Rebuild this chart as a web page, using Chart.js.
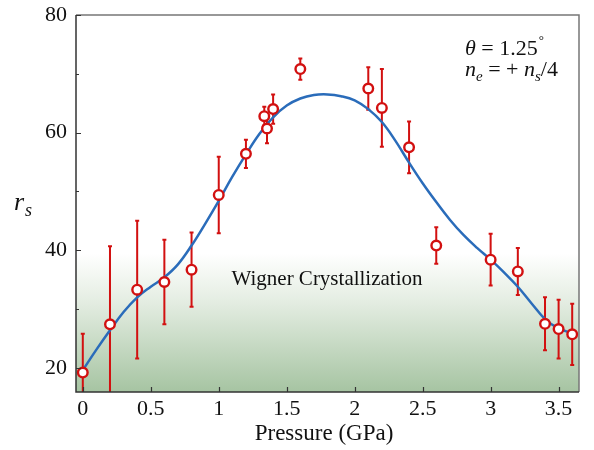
<!DOCTYPE html>
<html>
<head>
<meta charset="utf-8">
<script src="https://cdn.jsdelivr.net/npm/chart.js@4"></script>
<style>
  html, body { margin: 0; padding: 0; background: #fff; }
</style>
</head>
<body>
<canvas id="chart" width="594" height="450"></canvas>
<script>
// measured points (pressure in GPa, r_s and its error)
const pressure = [0, 0.2, 0.4, 0.6, 0.8, 1.0, 1.2, 1.335, 1.355, 1.4, 1.6, 2.1, 2.2, 2.4, 2.6, 3.0, 3.2, 3.4, 3.5, 3.6];
const rs       = [19.2, 27.4, 33.3, 34.6, 36.7, 49.4, 56.4, 62.8, 60.7, 64.0, 70.8, 67.5, 64.2, 57.5, 40.8, 38.4, 36.4, 27.5, 26.6, 25.7];
const rsErr    = [6.6, 13.3, 11.7, 7.2, 6.3, 6.5, 2.4, 1.6, 2.5, 2.5, 1.8, 3.6, 6.6, 4.4, 3.1, 4.4, 4.0, 4.5, 5.0, 5.2];

// smooth guide curve
const fitP  = [0, 0.1, 0.2, 0.3, 0.4, 0.5, 0.6, 0.7, 0.8, 0.9, 1.0, 1.1, 1.2, 1.3, 1.4, 1.5, 1.6, 1.7, 1.8,
               1.9, 2.0, 2.1, 2.2, 2.3, 2.4, 2.5, 2.6, 2.7, 2.8, 2.9, 3.0, 3.1, 3.2, 3.3, 3.4, 3.5, 3.6];
const fitRs = [19.6, 23.1, 26.4, 29.5, 32.0, 33.8, 35.4, 37.6, 40.8, 44.5, 48.4, 52.5, 56.3, 59.8, 62.6, 64.6, 65.8, 66.4, 66.5,
               66.2, 65.5, 64.0, 61.8, 58.6, 54.9, 51.4, 48.2, 45.2, 42.6, 40.4, 38.4, 36.2, 33.8, 31.0, 28.3, 26.7, 25.9];

// axis ticks
const xTicks = [0, 0.5, 1, 1.5, 2, 2.5, 3, 3.5];
const yTicks = [20, 30, 40, 50, 60, 70, 80];
const yLabels = [20, 40, 60, 80];

const SERIF = "'Liberation Serif', 'DejaVu Serif', serif";
const RED = 'rgb(210,16,16)';
const BLUE = 'rgb(42,108,186)';
const shadeTop = 39.5;

function drawRuns(ctx, x, y, runs) {
    runs.forEach(r => {
        ctx.font = r.font;
        ctx.fillText(r.t, x, y + (r.dy || 0));
        x += ctx.measureText(r.t).width + (r.dx || 0);
    });
}

const decorations = {
    id: 'decorations',
    beforeDatasetsDraw(chart) {
        const { ctx, chartArea: a, scales: { x, y } } = chart;
        ctx.save();
        // green shading of the crystal region
        const top = y.getPixelForValue(shadeTop);
        const g = ctx.createLinearGradient(0, top, 0, a.bottom);
        g.addColorStop(0, 'rgba(255,255,255,1)');
        g.addColorStop(0.35, 'rgb(228,237,226)');
        g.addColorStop(1, 'rgb(166,196,162)');
        ctx.fillStyle = g;
        ctx.fillRect(a.left, top, a.width, a.bottom - top);

        ctx.fillStyle = '#111';
        ctx.font = '21px ' + SERIF;
        ctx.textAlign = 'center';
        ctx.textBaseline = 'alphabetic';
        ctx.fillText('Wigner Crystallization', 327, 285);

        // error bars
        ctx.beginPath();
        ctx.rect(a.left, a.top, a.width, a.height);
        ctx.clip();
        ctx.strokeStyle = RED;
        ctx.lineWidth = 2;
        pressure.forEach((p, i) => {
            const px = x.getPixelForValue(p);
            const hi = y.getPixelForValue(rs[i] + rsErr[i]);
            const lo = y.getPixelForValue(rs[i] - rsErr[i]);
            ctx.beginPath();
            ctx.moveTo(px, hi); ctx.lineTo(px, lo);
            ctx.moveTo(px - 2, hi); ctx.lineTo(px + 2, hi);
            ctx.moveTo(px - 2, lo); ctx.lineTo(px + 2, lo);
            ctx.stroke();
        });
        ctx.restore();
    },
    afterDraw(chart) {
        const { ctx, chartArea: a, scales: { x, y } } = chart;
        ctx.save();
        // frame
        ctx.lineWidth = 1.5;
        ctx.strokeStyle = '#777';
        ctx.beginPath();
        ctx.moveTo(a.left, a.top); ctx.lineTo(a.right, a.top); ctx.lineTo(a.right, a.bottom);
        ctx.stroke();
        ctx.strokeStyle = '#333';
        ctx.beginPath();
        ctx.moveTo(a.left, a.top); ctx.lineTo(a.left, a.bottom); ctx.lineTo(a.right, a.bottom);
        ctx.stroke();

        // inward ticks
        ctx.lineWidth = 1.2;
        ctx.beginPath();
        yTicks.forEach(v => {
            const py = Math.round(y.getPixelForValue(v)) + 0.5;
            const len = yLabels.includes(v) ? 5 : 3;
            ctx.moveTo(a.left, py); ctx.lineTo(a.left + len, py);
        });
        xTicks.forEach(v => {
            const px = Math.round(x.getPixelForValue(v)) + 0.5;
            ctx.moveTo(px, a.bottom); ctx.lineTo(px, a.bottom - 5);
        });
        ctx.stroke();

        // axis titles
        ctx.fillStyle = '#111';
        ctx.textAlign = 'center';
        ctx.textBaseline = 'alphabetic';
        ctx.font = '23px ' + SERIF;
        ctx.fillText('Pressure (GPa)', 324, 440);

        ctx.textAlign = 'left';
        drawRuns(ctx, 14, 210, [
            { t: 'r', font: 'italic 26px ' + SERIF, dx: 1 },
            { t: 's', font: 'italic 18px ' + SERIF, dy: 6 }
        ]);

        // annotation
        drawRuns(ctx, 465, 55, [
            { t: 'θ', font: 'italic 22px ' + SERIF },
            { t: ' = 1.25', font: '22px ' + SERIF, dx: 1 },
            { t: '°', font: '13px ' + SERIF, dy: -11 }
        ]);
        drawRuns(ctx, 465, 76, [
            { t: 'n', font: 'italic 22px ' + SERIF },
            { t: 'e', font: 'italic 15px ' + SERIF, dy: 5 },
            { t: ' = + ', font: '22px ' + SERIF },
            { t: 'n', font: 'italic 22px ' + SERIF },
            { t: 's', font: 'italic 15px ' + SERIF, dy: 5 },
            { t: '/4', font: '22px ' + SERIF }
        ]);
        ctx.restore();
    }
};

const ctx = document.getElementById('chart').getContext('2d');
const chart = new Chart(ctx, {
    type: 'scatter',
    data: {
        datasets: [
            {
                type: 'scatter',
                data: pressure.map((p, i) => ({ x: p, y: rs[i] })),
                pointRadius: 4.8,
                pointBorderWidth: 2.4,
                pointBackgroundColor: '#fff',
                pointBorderColor: RED,
                order: 0
            },
            {
                type: 'line',
                data: fitP.map((p, i) => ({ x: p, y: fitRs[i] })),
                borderColor: BLUE,
                borderWidth: 2.5,
                pointRadius: 0,
                fill: false,
                tension: 0.4,
                order: 1
            }
        ]
    },
    options: {
        responsive: false,
        animation: false,
        layout: { padding: { top: 15, right: 15, left: 0, bottom: 0 } },
        plugins: {
            legend: { display: false },
            tooltip: { enabled: false }
        },
        scales: {
            x: {
                type: 'linear',
                min: -0.05,
                max: 3.65,
                afterBuildTicks: s => { s.ticks = xTicks.map(v => ({ value: v })); },
                afterFit: s => { s.height = 58; },
                grid: { display: false, drawTicks: false },
                border: { display: false },
                ticks: {
                    autoSkip: false,
                    maxRotation: 0,
                    padding: 4,
                    color: '#111',
                    font: { family: SERIF, size: 22 },
                    callback: v => String(v)
                }
            },
            y: {
                min: 15.9,
                max: 80,
                afterBuildTicks: s => { s.ticks = yTicks.map(v => ({ value: v })); },
                afterFit: s => { s.width = 76; s.paddingTop = 0; s.paddingBottom = 0; },
                grid: { display: false, drawTicks: false },
                border: { display: false },
                ticks: {
                    autoSkip: false,
                    padding: 9,
                    color: '#111',
                    font: { family: SERIF, size: 22 },
                    callback: v => yLabels.includes(v) ? String(v) : ''
                }
            }
        }
    },
    plugins: [decorations]
});
</script>
</body>
</html>
